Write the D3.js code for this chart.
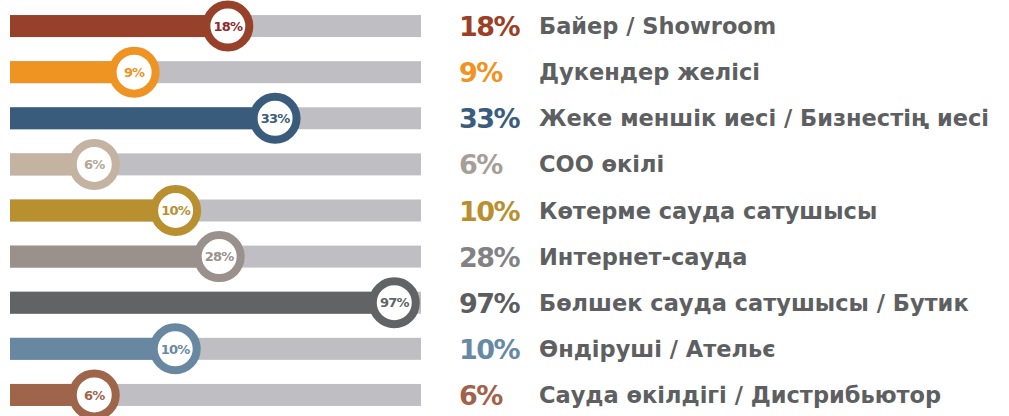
<!DOCTYPE html>
<html>
<head>
<meta charset="utf-8">
<script src="https://cdn.jsdelivr.net/npm/d3@7"></script>
<style>
    html, body { margin: 0; padding: 0; background: #fff; }
    svg { display: block; }
    text { font-family: "DejaVu Sans", sans-serif; font-weight: bold; }
</style>
</head>
<body>
<svg id="chart" width="1009" height="416"></svg>
<script>
(function () {

    // labels for each row
    let categories = [
        "Байер / Showroom",
        "Дукендер желісі",
        "Жеке меншік иесі / Бизнестің иесі",
        "СОО өкілі",
        "Көтерме сауда сатушысы",
        "Интернет-сауда",
        "Бөлшек сауда сатушысы / Бутик",
        "Өндіруші / Ательє",
        "Сауда өкілдігі / Дистрибьютор"
    ];

    // share shown in the labels
    let values = [18, 9, 33, 6, 10, 28, 97, 10, 6];

    // where the marker sits along the track (percent of track)
    let markerPos = [53.0, 30.2, 64.5, 20.5, 40.3, 50.9, 93.5, 40.2, 20.5];

    let barColors = ["#98412a", "#ef9322", "#3a5c7c", "#c3b3a0", "#b89030", "#9b918c", "#626365", "#6888a2", "#9e654b"];
    let valueColors = ["#9b3f26", "#f09323", "#3a5d7d", "#a69e98", "#b98f2f", "#828285", "#5c5d5f", "#6889a5", "#a1614a"];
    let innerColors = ["#8e2a2e", "#ef9322", "#3a5c7c", "#b3a596", "#b89030", "#9b918c", "#626365", "#6888a2", "#9e654b"];

    let data = categories.map((c, i) => {
        return {
            name: c,
            value: values[i],
            pos: markerPos[i],
            bar: barColors[i],
            label: valueColors[i],
            inner: innerColors[i]
        };
    });

    let canvas = d3.select("#chart");

    let xScale = d3.scaleLinear()
        .domain([0, 100])
        .range([10, 421]);

    let yScale = d3.scalePoint()
        .domain(categories)
        .range([3, 418])
        .padding(0.5);

    let barHeight = 22;
    let fmt = d => d + "%";

    let rows = canvas.append("g").attr("class", "rows")
        .selectAll("g")
        .data(data)
        .enter()
        .append("g")
        .attr("transform", d => `translate(0, ${yScale(d.name)})`);

    // grey track
    rows.append("rect")
        .attr("x", xScale(0))
        .attr("y", -barHeight / 2)
        .attr("width", xScale(100) - xScale(0))
        .attr("height", barHeight)
        .attr("fill", "#bfbec3");

    // coloured part
    rows.append("rect")
        .attr("x", xScale(0))
        .attr("y", -barHeight / 2)
        .attr("width", d => xScale(d.pos) - xScale(0))
        .attr("height", barHeight)
        .attr("fill", d => d.bar);

    // ring marker
    rows.append("circle")
        .attr("cx", d => xScale(d.pos))
        .attr("cy", 0)
        .attr("r", 21.5)
        .attr("fill", "#fff")
        .attr("stroke", d => d.bar)
        .attr("stroke-width", 8);

    rows.append("text")
        .attr("x", d => xScale(d.pos))
        .attr("y", 0)
        .attr("dy", "0.36em")
        .attr("text-anchor", "middle")
        .attr("font-size", 13)
        .attr("letter-spacing", -0.8)
        .attr("fill", d => d.inner)
        .text(d => fmt(d.value));

    // legend on the right
    rows.append("text")
        .attr("x", 459)
        .attr("y", 0)
        .attr("dy", "0.37em")
        .attr("font-size", 27)
        .attr("font-weight", "normal")
        .attr("letter-spacing", -1.5)
        .attr("fill", d => d.label)
        .text(d => fmt(d.value));

    rows.append("text")
        .attr("x", 539)
        .attr("y", 0)
        .attr("dy", "0.36em")
        .attr("font-size", 22.5)
        .attr("fill", "#5e5f61")
        .text(d => d.name);

})();
</script>
</body>
</html>
